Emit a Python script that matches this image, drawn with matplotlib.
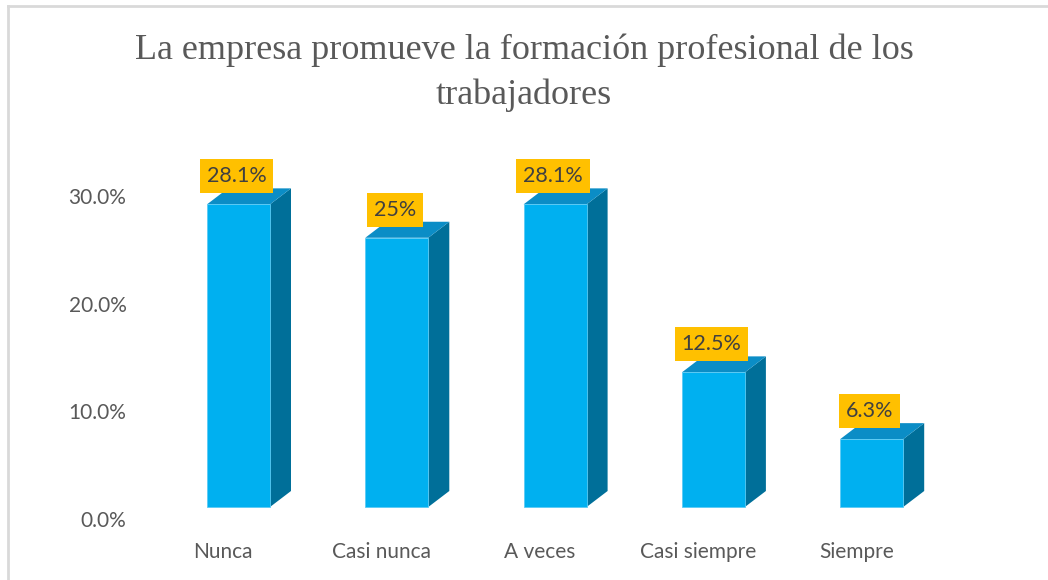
import matplotlib
matplotlib.use("Agg")
import matplotlib.pyplot as plt
from matplotlib.patches import Polygon
from matplotlib.lines import Line2D

categories = ["Nunca", "Casi nunca", "A veces", "Casi siempre", "Siempre"]
values = [28.1, 25.0, 28.1, 12.5, 6.3]
value_labels = ["28.1%", "25%", "28.1%", "12.5%", "6.3%"]
yticks = [0, 10, 20, 30]
ytick_labels = ["0.0%", "10.0%", "20.0%", "30.0%"]
title = "La empresa promueve la formación profesional de los\ntrabajadores"

W, H, DPI = 1048, 580, 100
fig = plt.figure(figsize=(W / DPI, H / DPI), dpi=DPI)
fig.patch.set_facecolor("white")

# axes in pixel space
ax_l, ax_r, ax_b, ax_t = 150, 1000, 530, 150
ax = fig.add_axes([ax_l / W, 1 - ax_b / H, (ax_r - ax_l) / W, (ax_b - ax_t) / H])
step_px = 158.3
x0_px = 238.5
y0_px = 519
ppv = 10.77  # pixels per percent
ax.set_xlim((ax_l - x0_px) / step_px, (ax_r - x0_px) / step_px)
ax.set_ylim((y0_px - ax_b) / ppv, (y0_px - ax_t) / ppv)
for s in ax.spines.values():
    s.set_visible(False)
ax.set_facecolor("none")

bar_w = 63 / step_px
dx = 21 / step_px
dy = 16 / ppv
base = 12 / ppv

front_c = "#00B0F0"
side_c = "#006F99"
top_c = "#0B8DC6"

for i, v in enumerate(values):
    x0 = i - bar_w / 2
    x1 = i + bar_w / 2
    top = base + v
    ax.add_patch(Polygon([(x1, base), (x1 + dx, base + dy), (x1 + dx, top + dy), (x1, top)],
                         closed=True, facecolor=side_c, edgecolor="none", zorder=2))
    ax.add_patch(Polygon([(x0, top), (x1, top), (x1 + dx, top + dy), (x0 + dx, top + dy)],
                         closed=True, facecolor=top_c, edgecolor="none", zorder=2))
    ax.bar(i, v, width=bar_w, bottom=base, color=front_c, edgecolor="#5CCBF5",
           linewidth=0.6, zorder=3)
    ax.annotate(value_labels[i], xy=(i, top), xytext=(-2, 28), textcoords="offset pixels",
                ha="center", va="center", fontsize=15.5, family="Lato", color="#404040",
                bbox=dict(boxstyle="square,pad=0.32", facecolor="#FFC000", edgecolor="none"),
                zorder=5)

ax.set_yticks(yticks)
ax.set_yticklabels(ytick_labels, fontsize=15, family="Lato", color="#595959")
ax.tick_params(axis="y", length=0, pad=17)
ax.set_xticks([i - 15.5 / step_px for i in range(len(categories))])
ax.set_xticklabels(categories, fontsize=15, family="Lato", color="#595959")
ax.tick_params(axis="x", length=0, pad=9)

fig.text(0.5, 1 - 73 / H, title, ha="center", va="center", fontsize=26,
         family="Liberation Serif", color="#595959", linespacing=1.45)

# chart border (top and left visible)
fig.add_artist(Line2D([8 / W, 1], [1 - 6 / H, 1 - 6 / H], color="#D9D9D9", lw=2.0))
fig.add_artist(Line2D([8 / W, 8 / W], [0, 1 - 6 / H], color="#D9D9D9", lw=2.0))

fig.savefig("out.png", dpi=DPI, facecolor="white")
